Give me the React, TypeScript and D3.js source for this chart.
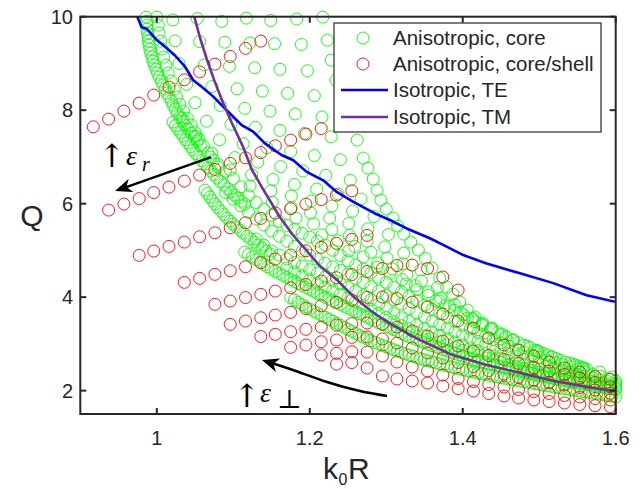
import React from 'react';
import * as d3 from 'd3';

type Pt = [number, number];

// ---------- axes ----------
const xDomain: Pt = [0.9, 1.6];
const yDomain: Pt = [1.5, 10];
const xTickValues = [1, 1.2, 1.4, 1.6];
const xTickLabels = ['1', '1.2', '1.4', '1.6'];
const yTickValues = [2, 4, 6, 8, 10];
const yTickLabels = ['2', '4', '6', '8', '10'];
const seriesNames = ['Anisotropic, core', 'Anisotropic, core/shell', 'Isotropic, TE', 'Isotropic, TM'];

// ---------- isotropic lines ----------
const isoTE: Pt[] = [[0.9745,10.0],[0.980,9.78],[0.9876,9.73],[1.0,9.50],[1.0085,9.39],[1.0238,9.17],[1.0369,8.93],[1.0477,8.64],[1.0587,8.50],[1.0739,8.29],[1.0869,8.07],[1.0957,7.93],[1.111,7.68],[1.126,7.54],[1.1414,7.29],[1.163,7.04],[1.1784,6.93],[1.196,6.68],[1.2176,6.50],[1.2352,6.25],[1.257,6.04],[1.2852,5.79],[1.3048,5.65],[1.3267,5.47],[1.357,5.26],[1.379,5.08],[1.4007,4.90],[1.4312,4.72],[1.4748,4.51],[1.5183,4.30],[1.562,4.04],[1.599,3.90]];
const isoTM: Pt[] = [[1.049,10.0],[1.0565,9.55],[1.0656,9.08],[1.076,8.60],[1.0866,8.16],[1.098,7.73],[1.1127,7.22],[1.1245,6.72],[1.1375,6.35],[1.161,5.71],[1.178,5.33],[1.194,5.03],[1.213,4.67],[1.2356,4.37],[1.2565,4.02],[1.279,3.72],[1.301,3.47],[1.344,3.08],[1.387,2.76],[1.431,2.55],[1.475,2.38],[1.518,2.21],[1.562,2.08],[1.599,1.99]];

// ---------- anisotropic core/shell (red) ----------
const redX = [0.917,0.937,0.957,0.977,0.996,1.016,1.036,1.056,1.076,1.096,1.116,1.136,1.155,1.175,1.195,1.215,1.235,1.255,1.275,1.295,1.314,1.334,1.354,1.374,1.394,1.414,1.434,1.454,1.473,1.493,1.513,1.533,1.553,1.573,1.593];
const redRowA = [7.644,7.809,7.98,8.151,8.322,8.493,8.649,8.82,8.985,9.15,9.321,9.477];
const redRowB = [5.863,5.991,6.109,6.237,6.355,6.483,6.611,6.733,6.861,6.981,7.093,7.238,7.36,7.488,7.606];
const redRowC = [4.894,4.986,5.086,5.178,5.292,5.377,5.484,5.591,5.685,5.799,5.891,5.991,6.087,6.184,6.276];
const redRowD = [4.317,4.402,4.488,4.565,4.65,4.736,4.815,4.9,4.992,5.065,5.151,5.236,5.322];
const redRowE = [3.846,3.917,3.991,4.06,4.13,4.201,4.27,4.344,4.415,4.483,4.548,4.612,4.676,4.687,4.612,4.43,4.152];
const redRowF = [3.418,3.489,3.559,3.617,3.675,3.756,3.816,3.889,3.938,3.996,4.002,3.97,3.895,3.788,3.638,3.489,3.339,3.125,2.976,2.869,2.74,2.612,2.484,2.398,2.302,2.242];
const redRowG = [3.157,3.204,3.26,3.311,3.361,3.403,3.435,3.446,3.425,3.361,3.275,3.168,3.061,2.954,2.847,2.751,2.666,2.58,2.494,2.42,2.345,2.27,2.174,2.084];
const redRowH = [2.926,2.976,3.046,3.083,3.14,3.147,3.104,3.018,2.911,2.805,2.698,2.601,2.516,2.43,2.355,2.291,2.227,2.174,2.12,2.067,2.013,1.943];
const redRowI = [2.762,2.798,2.832,2.826,2.74,2.612,2.505,2.42,2.334,2.259,2.195,2.131,2.077,2.024,1.981,1.938,1.896,1.864,1.831,1.799];
const redRowJ = [2.569,2.601,2.484,2.313,2.249,2.206,2.163,2.099,2.045,1.992,1.938,1.885,1.842,1.799,1.767,1.735,1.703,1.678,1.656];
const redRowStart = [0, 1, 3, 6, 8, 9, 11, 13, 15, 16];
const redRows = [redRowA, redRowB, redRowC, redRowD, redRowE, redRowF, redRowG, redRowH, redRowI, redRowJ];

// ---------- anisotropic core (green) ----------
const greenStrokeA: Pt[] = [[0.986,9.99],[0.987,9.905],[0.987,9.819],[0.987,9.734],[0.988,9.648],[0.989,9.562],[0.989,9.477],[0.99,9.391],[0.991,9.306],[0.992,9.22],[0.994,9.135],[0.995,9.049],[0.997,8.964],[0.999,8.878],[1.001,8.793],[1.003,8.707],[1.006,8.622],[1.008,8.536],[1.011,8.45],[1.013,8.365],[1.016,8.279],[1.019,8.194],[1.021,8.108],[1.024,8.023],[1.027,7.937],[1.03,7.852],[1.034,7.766],[1.037,7.681],[1.041,7.595],[1.045,7.51],[1.049,7.424],[1.053,7.338],[1.057,7.253]];
const greenStrokeA2: Pt[] = [[1.0,9.99],[1.002,9.819],[1.003,9.648],[1.005,9.477],[1.007,9.306],[1.009,9.135],[1.012,8.964],[1.015,8.793],[1.019,8.622],[1.023,8.45],[1.026,8.279],[1.03,8.129],[1.035,7.98],[1.04,7.83],[1.045,7.681],[1.05,7.531],[1.055,7.381],[1.061,7.232],[1.067,7.082],[1.074,6.932],[1.08,6.782]];
const greenStrokeB: Pt[] = [[1.0212,7.745],[1.0244,7.67],[1.0277,7.595],[1.031,7.52],[1.0342,7.445],[1.0375,7.37],[1.0408,7.296],[1.0441,7.221],[1.0473,7.146],[1.0512,7.071],[1.0552,6.996],[1.0591,6.921],[1.063,6.847],[1.0669,6.772],[1.0709,6.697],[1.0748,6.622],[1.0787,6.547],[1.0833,6.472],[1.0878,6.397],[1.0924,6.323],[1.097,6.248],[1.1016,6.184],[1.1061,6.119],[1.1107,6.055],[1.1153,5.991]];
const greenStrokeC: Pt[] = [[1.063,6.29],[1.0663,6.216],[1.0695,6.141],[1.0728,6.066],[1.0761,5.991],[1.08,5.916],[1.0839,5.841],[1.0878,5.766],[1.0918,5.692],[1.0957,5.627],[1.0996,5.563],[1.1042,5.499],[1.1088,5.435],[1.1133,5.371],[1.1179,5.307],[1.1225,5.243],[1.1271,5.178],[1.1323,5.114],[1.1375,5.05],[1.1428,4.986],[1.148,4.922]];
const denseX = [1.115,1.12,1.125,1.13,1.135,1.14,1.145,1.15,1.155,1.16,1.165,1.17,1.175,1.18,1.185,1.19,1.195,1.2,1.205,1.21,1.215,1.22,1.225,1.23,1.235,1.24,1.245,1.25,1.255,1.26,1.265,1.27,1.275,1.28,1.285,1.29,1.295,1.3,1.305,1.31,1.315,1.32,1.325,1.33,1.335,1.34,1.345,1.35,1.355,1.36,1.365,1.37,1.375,1.38,1.385,1.39,1.395,1.4,1.405,1.41,1.415,1.42,1.425,1.43,1.435,1.44,1.445,1.45,1.455,1.46,1.465,1.47,1.475,1.48,1.485,1.49,1.495,1.5,1.505,1.51,1.515,1.52,1.525,1.53,1.535,1.54,1.545,1.55,1.555,1.56,1.565,1.57,1.575,1.58,1.585,1.59,1.595,1.6];
const greenStrokeD = [4.965,4.912,4.858,4.804,4.75,4.697,4.648,4.601,4.554,4.51,4.466,4.422,4.378,4.336,4.293,4.25,4.208,4.166,4.123,4.081,4.04,4.0,3.959,3.919,3.88,3.842,3.804,3.765,3.725,3.686,3.647,3.608,3.569,3.53,3.491,3.452,3.414,3.377,3.34,3.303,3.26,3.222,3.186,3.153,3.12,3.087,3.055,3.024,2.993,2.963,2.932,2.901,2.874,2.847,2.821,2.794,2.767,2.743,2.718,2.694,2.669,2.645,2.622,2.6,2.578,2.556,2.534,2.512,2.494,2.475,2.457,2.438,2.42,2.401,2.383,2.364,2.345,2.327,2.31,2.294,2.277,2.261,2.245,2.229,2.215,2.2,2.186,2.172,2.157,2.143,2.129,2.114,2.1,2.085,2.07,2.055,2.039,2.024];
const greenStrokeE = [3.99,3.94,3.89,3.841,3.793,3.745,3.701,3.657,3.614,3.571,3.528,3.486,3.443,3.399,3.355,3.311,3.268,3.226,3.184,3.142,3.104,3.069,3.035,3.0,2.968,2.937,2.906,2.875,2.844,2.815,2.788,2.762,2.735,2.708,2.682,2.66,2.637,2.614,2.592,2.569,2.548,2.528,2.507,2.487,2.466,2.448,2.43,2.413,2.395,2.377,2.359,2.343,2.327,2.31,2.294,2.278,2.264,2.249,2.235,2.22,2.206,2.192,2.177,2.163,2.148,2.134,2.119,2.105,2.091,2.076,2.062,2.049,2.036,2.024,2.012,1.999,1.987,1.975,1.962,1.95,1.938,1.925,1.91,1.894,1.879,1.864];
const mediumX = [1.07,1.08,1.09,1.1,1.11,1.12,1.13,1.14,1.15,1.16,1.17,1.18,1.19,1.2,1.21,1.22,1.23,1.24,1.25,1.26,1.27,1.28,1.29,1.3,1.31,1.32,1.33,1.34,1.35,1.36,1.37,1.38,1.39,1.4,1.41,1.42,1.43,1.44,1.45,1.46,1.47,1.48,1.49,1.5,1.51,1.52,1.53,1.54,1.55,1.56,1.57,1.58,1.59,1.6];
const greenMed1 = [6.996,6.843,6.691,6.538,6.36,6.174,6.025,5.883,5.75,5.619,5.534,5.452,5.368,5.283,5.198,5.114,5.002,4.891,4.78,4.688,4.603,4.518,4.424,4.319,4.214,4.111,4.018,3.925,3.832,3.741,3.654,3.567,3.48,3.397,3.32,3.244,3.167,3.093,3.022,2.951,2.881,2.819,2.765,2.71,2.656,2.604,2.555,2.506,2.457,2.407,2.357,2.307,2.256,2.206];
const greenMed2 = [6.235,6.094,5.953,5.811,5.671,5.54,5.413,5.304,5.195,5.086,4.983,4.898,4.813,4.728,4.65,4.572,4.493,4.405,4.313,4.222,4.13,4.038,3.946,3.854,3.761,3.668,3.575,3.487,3.411,3.335,3.259,3.187,3.121,3.056,2.99,2.925,2.86,2.795,2.729,2.672,2.623,2.574,2.525,2.479,2.435,2.391,2.348,2.308,2.269,2.23,2.191,2.152];
const greenMed3 = [5.243,5.112,4.986,4.902,4.818,4.742,4.665,4.586,4.508,4.429,4.358,4.286,4.214,4.127,4.035,3.943,3.849,3.751,3.652,3.558,3.481,3.405,3.328,3.254,3.183,3.112,3.042,2.975,2.915,2.855,2.795,2.74,2.691,2.642,2.593,2.546,2.503,2.459,2.415,2.375,2.337,2.299,2.261,2.227,2.195,2.163,2.131,2.099];
const greenMed4 = [4.62,4.539,4.458,4.376,4.295,4.215,4.139,4.064,3.99,3.907,3.822,3.737,3.651,3.564,3.478,3.389,3.317,3.246,3.176,3.109,3.042,2.98,2.918,2.859,2.805,2.75,2.698,2.648,2.602,2.559,2.516,2.474,2.434,2.393,2.355,2.318,2.283,2.25,2.217,2.185,2.155,2.124,2.093,2.062];
const greenSparse1: Pt[] = [[1.021,9.93],[1.024,9.485],[1.029,8.999],[1.039,8.552],[1.05,8.16],[1.065,7.764],[1.082,7.366],[1.102,6.985],[1.124,6.618],[1.149,6.272],[1.176,5.917],[1.205,5.567],[1.237,5.207],[1.27,4.861],[1.305,4.508],[1.34,4.16],[1.377,3.821],[1.416,3.473],[1.457,3.135],[1.5,2.834],[1.544,2.569]];
const greenSparse2: Pt[] = [[1.053,9.96],[1.056,9.469],[1.062,8.968],[1.072,8.505],[1.083,8.1],[1.097,7.698],[1.113,7.282],[1.132,6.89],[1.152,6.516],[1.176,6.164],[1.201,5.803],[1.229,5.444],[1.259,5.084],[1.289,4.732],[1.321,4.377],[1.355,4.039],[1.389,3.721],[1.426,3.396],[1.465,3.081],[1.505,2.797],[1.547,2.548]];
const greenSparse3: Pt[] = [[1.085,9.9],[1.089,9.454],[1.095,8.938],[1.105,8.457],[1.115,8.039],[1.129,7.633],[1.144,7.198],[1.162,6.794],[1.18,6.413],[1.202,6.057],[1.226,5.69],[1.252,5.32],[1.28,4.96],[1.308,4.604],[1.338,4.245],[1.369,3.919],[1.401,3.622],[1.436,3.319],[1.473,3.026],[1.511,2.761],[1.551,2.527]];
const greenSparse4: Pt[] = [[1.117,9.97],[1.122,9.438],[1.128,8.907],[1.138,8.41],[1.148,7.979],[1.161,7.567],[1.175,7.114],[1.191,6.699],[1.209,6.311],[1.229,5.949],[1.251,5.576],[1.275,5.197],[1.301,4.837],[1.327,4.475],[1.355,4.114],[1.383,3.798],[1.413,3.522],[1.446,3.242],[1.48,2.972],[1.516,2.724],[1.555,2.506]];
const greenSparse5: Pt[] = [[1.149,9.92],[1.154,9.423],[1.161,8.876],[1.171,8.362],[1.181,7.919],[1.193,7.501],[1.206,7.03],[1.221,6.604],[1.237,6.209],[1.256,5.841],[1.276,5.463],[1.298,5.074],[1.322,4.714],[1.346,4.346],[1.371,3.982],[1.397,3.678],[1.425,3.423],[1.456,3.165],[1.488,2.917],[1.522,2.688],[1.558,2.485]];
const greenSparse6: Pt[] = [[1.183,9.95],[1.189,9.406],[1.197,8.843],[1.206,8.311],[1.216,7.854],[1.228,7.43],[1.24,6.94],[1.253,6.502],[1.267,6.099],[1.284,5.725],[1.303,5.341],[1.323,4.942],[1.345,4.582],[1.367,4.208],[1.389,3.841],[1.413,3.549],[1.438,3.316],[1.466,3.082],[1.497,2.858],[1.528,2.649],[1.562,2.462]];
const greenEdge: Pt[] = [[1.033,7.83],[1.051,7.45],[1.072,7.08],[1.096,6.72],[1.122,6.38],[1.151,6.03],[1.182,5.69],[1.216,5.33],[1.251,4.99],[1.288,4.64],[1.326,4.28],[1.365,3.92],[1.406,3.55],[1.449,3.19],[1.494,2.87],[1.54,2.59]];
const greenOuter: Pt[] = [[1.217,9.99],[1.223,9.498],[1.228,9.071],[1.234,8.643],[1.242,8.215],[1.251,7.787],[1.262,7.36],[1.27,6.975],[1.276,6.761],[1.283,6.526],[1.288,6.29],[1.293,6.077],[1.3,5.884],[1.309,5.692],[1.315,5.521],[1.323,5.349],[1.332,5.178],[1.342,5.007],[1.351,4.836],[1.36,4.622],[1.37,4.409],[1.379,4.216],[1.387,4.066],[1.396,3.895],[1.406,3.724],[1.416,3.574],[1.426,3.446],[1.438,3.339],[1.451,3.211],[1.466,3.083],[1.484,2.954],[1.498,2.847],[1.517,2.719],[1.534,2.612],[1.557,2.484],[1.579,2.398],[1.595,2.291]];

// ---------- annotation arrows (data coordinates) ----------
const arrowEpsR: Pt[] = [[1.0709, 6.996], [0.9454, 6.269]];
const arrowEpsPerp: Pt[] = [[1.301, 1.885], [1.2656, 1.992], [1.2225, 2.184], [1.178, 2.441], [1.1375, 2.655]];

const GREEN = '#00ff00';
const RED = '#ff0000';
const BLUE = '#0000ff';
const PURPLE = '#7030a0';
const INK = '#262626';
const SANS = '"Liberation Sans", Arial, Helvetica, sans-serif';
const SERIF = '"Liberation Serif", "DejaVu Serif", "Times New Roman", serif';
const ARROWFONT = '"DejaVu Serif", serif';

function alignEnd(xs: number[], ys: number[]): Pt[] {
  const off = xs.length - ys.length;
  return ys.map((v, i) => [xs[off + i], v] as Pt);
}

function headPath(tip: Pt, from: Pt, L = 17, w = 7, notch = 5): string {
  const dx = tip[0] - from[0];
  const dy = tip[1] - from[1];
  const len = Math.hypot(dx, dy);
  const ux = dx / len, uy = dy / len;
  const px = -uy, py = ux;
  const bx = tip[0] - ux * L, by = tip[1] - uy * L;
  const nx = tip[0] - ux * (L - notch), ny = tip[1] - uy * (L - notch);
  return `M${tip[0]},${tip[1]}L${bx + px * w},${by + py * w}L${nx},${ny}L${bx - px * w},${by - py * w}Z`;
}

export default function App() {
  const width = 644, height = 489;
  const left = 80.3, right = 615.7, top = 16.7, bottom = 414;
  const x = d3.scaleLinear().domain(xDomain).range([left, right]);
  const y = d3.scaleLinear().domain(yDomain).range([bottom, top]);

  const greenPts: Pt[] = [
    ...greenStrokeA, ...greenStrokeA2, ...greenStrokeB, ...greenStrokeC,
    ...alignEnd(denseX, greenStrokeD), ...alignEnd(denseX, greenStrokeE),
    ...alignEnd(mediumX, greenMed1), ...alignEnd(mediumX, greenMed2),
    ...alignEnd(mediumX, greenMed3), ...alignEnd(mediumX, greenMed4),
    ...greenSparse1, ...greenSparse2, ...greenSparse3, ...greenSparse4, ...greenSparse5, ...greenSparse6,
    ...greenEdge, ...greenOuter,
  ];
  const redPts: Pt[] = redRows.flatMap((qs, r) => qs.map((q, i) => [redX[redRowStart[r] + i], q] as Pt));

  const line = d3.line<Pt>().x(d => x(d[0])).y(d => y(d[1]));
  const curved = d3.line<Pt>().x(d => x(d[0])).y(d => y(d[1])).curve(d3.curveNatural);

  const rTip: Pt = [x(arrowEpsR[1][0]), y(arrowEpsR[1][1])];
  const rFrom: Pt = [x(arrowEpsR[0][0]), y(arrowEpsR[0][1])];
  const pN = arrowEpsPerp.length;
  const pTip: Pt = [x(arrowEpsPerp[pN - 1][0]), y(arrowEpsPerp[pN - 1][1])];
  const pFrom: Pt = [x(arrowEpsPerp[pN - 2][0]), y(arrowEpsPerp[pN - 2][1])];
  const perpShaft: Pt[] = arrowEpsPerp.slice(0, pN - 1).concat([[
    arrowEpsPerp[pN - 1][0] * 0.85 + arrowEpsPerp[pN - 2][0] * 0.15,
    arrowEpsPerp[pN - 1][1] * 0.85 + arrowEpsPerp[pN - 2][1] * 0.15,
  ] as Pt]);

  const tickLen = 6;
  const legX = 334, legY = 23, legW = 267, legH = 109;
  const legRows = [38, 64, 90, 117];

  return (
    <svg width={width} height={height} style={{ position: 'absolute', left: 0, top: 0, display: 'block' }}>
      <rect x={0} y={0} width={width} height={height} fill="#ffffff" />
      <g fill="none" strokeWidth={0.9}>
        {greenPts.map((d, i) => (
          <circle key={'g' + i} cx={x(d[0])} cy={y(d[1])} r={6} stroke={GREEN} />
        ))}
        {redPts.map((d, i) => (
          <circle key={'r' + i} cx={x(d[0])} cy={y(d[1])} r={6} stroke={RED} />
        ))}
      </g>
      <path d={line(isoTE) || ''} fill="none" stroke={BLUE} strokeWidth={2.6} strokeLinejoin="round" />
      <path d={line(isoTM) || ''} fill="none" stroke={PURPLE} strokeWidth={2.6} strokeLinejoin="round" />

      {/* arrows */}
      <line x1={rFrom[0]} y1={rFrom[1]} x2={rTip[0] + (rFrom[0] - rTip[0]) * 0.08} y2={rTip[1] + (rFrom[1] - rTip[1]) * 0.08} stroke="#000" strokeWidth={2.5} />
      <path d={headPath(rTip, rFrom)} fill="#000" />
      <path d={curved(perpShaft) || ''} fill="none" stroke="#000" strokeWidth={2.5} />
      <path d={headPath(pTip, pFrom)} fill="#000" />

      {/* annotation labels */}
      <g fill="#000">
        <text x={112} y={167} fontSize={32} textAnchor="middle" fontFamily={ARROWFONT}>↑</text>
        <text x={126} y={165} fontSize={28} fontStyle="italic" fontFamily={SERIF}>ε</text>
        <text x={142} y={171} fontSize={20} fontStyle="italic" fontFamily={SERIF}>r</text>
        <text x={247} y={407} fontSize={32} textAnchor="middle" fontFamily={ARROWFONT}>↑</text>
        <text x={260} y={402} fontSize={28} fontStyle="italic" fontFamily={SERIF}>ε</text>
        <text x={277} y={408} fontSize={26} fontFamily={SERIF}>⊥</text>
      </g>

      {/* axes box */}
      <rect x={left} y={top} width={right - left} height={bottom - top} fill="none" stroke={INK} strokeWidth={2} />
      <g stroke={INK} strokeWidth={2}>
        {xTickValues.map(v => (
          <g key={'xt' + v}>
            <line x1={x(v)} x2={x(v)} y1={bottom} y2={bottom - tickLen} />
            <line x1={x(v)} x2={x(v)} y1={top} y2={top + tickLen} />
          </g>
        ))}
        {yTickValues.map(v => (
          <g key={'yt' + v}>
            <line x1={left} x2={left + tickLen} y1={y(v)} y2={y(v)} />
            <line x1={right} x2={right - tickLen} y1={y(v)} y2={y(v)} />
          </g>
        ))}
      </g>
      <g fill={INK} fontFamily={SANS} fontSize={20}>
        {xTickValues.map((v, i) => (
          <text key={'xl' + v} x={x(v)} y={445} textAnchor="middle">{xTickLabels[i]}</text>
        ))}
        {yTickValues.map((v, i) => (
          <text key={'yl' + v} x={73} y={y(v)} dy="0.35em" textAnchor="end">{yTickLabels[i]}</text>
        ))}
      </g>
      {/* axis labels */}
      <text x={32} y={215} dy="0.35em" textAnchor="middle" fontFamily={SANS} fontSize={30} fill={INK}>Q</text>
      <text y={479} fontFamily={SANS} fill={INK}>
        <tspan x={323} fontSize={30}>k</tspan>
        <tspan x={338.5} dy={6} fontSize={16}>0</tspan>
        <tspan x={348} dy={-6} fontSize={30}>R</tspan>
      </text>

      {/* legend */}
      <rect x={legX} y={legY} width={legW} height={legH} fill="#ffffff" stroke={INK} strokeWidth={1.2} />
      <circle cx={363} cy={legRows[0]} r={6} fill="none" stroke={GREEN} strokeWidth={0.9} />
      <circle cx={363} cy={legRows[1]} r={6} fill="none" stroke={RED} strokeWidth={0.9} />
      <line x1={341} x2={388} y1={legRows[2]} y2={legRows[2]} stroke={BLUE} strokeWidth={2.6} />
      <line x1={341} x2={388} y1={legRows[3]} y2={legRows[3]} stroke={PURPLE} strokeWidth={2.6} />
      <g fill={INK} fontFamily={SANS} fontSize={20.5}>
        {seriesNames.map((s, i) => (
          <text key={s} x={393} y={legRows[i]} dy="0.35em">{s}</text>
        ))}
      </g>
    </svg>
  );
}
